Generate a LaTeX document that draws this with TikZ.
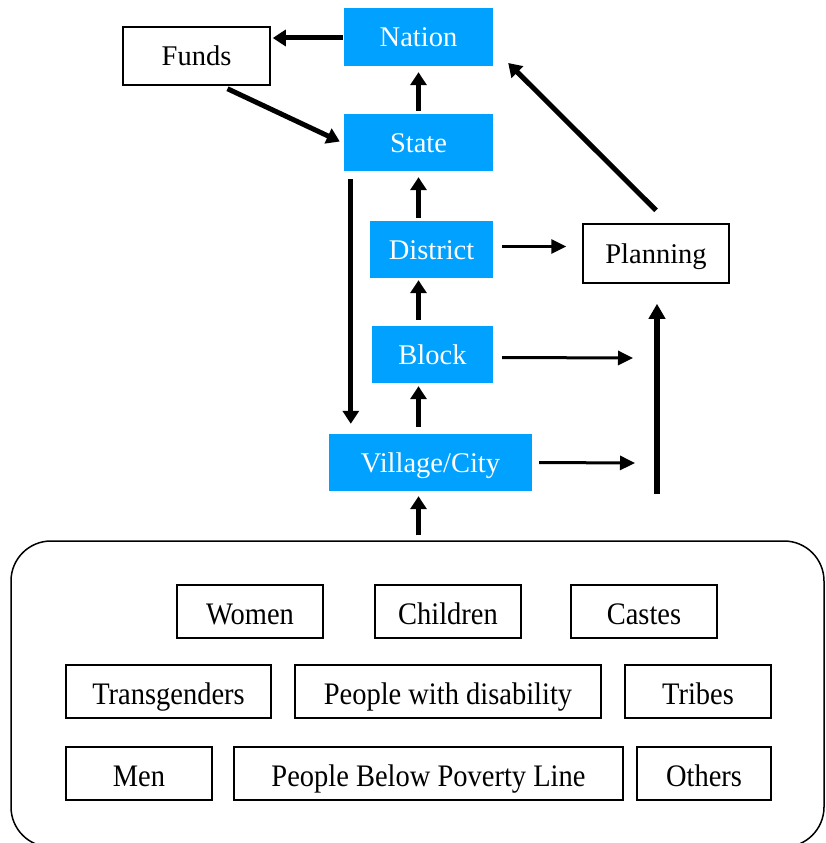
\documentclass[tikz,border=0pt]{standalone}
\usepackage{fontspec}
\setmainfont{Liberation Serif}
\usetikzlibrary{arrows.meta,calc}
\definecolor{lvlblue}{RGB}{0,161,255}
\tikzset{
  every node/.style={font=\fontsize{28.5}{34}\selectfont, text height=22pt, text depth=3pt},
  lvl/.style={fill=lvlblue, text=white, inner sep=0pt, minimum height=57pt},
  wbox/.style={draw=black, line width=1.5pt, fill=white, inner sep=0pt, minimum height=58pt},
  grp/.style={draw=black, line width=1.4pt, inner sep=0pt, minimum height=53pt,
    font=\fontsize{31.3}{36}\selectfont\addfontfeature{FakeStretch=0.91}, text height=27pt, text depth=2pt},
  thickarr/.style={line width=5pt, -{Triangle[length=13pt,width=16pt]}},
  thinarr/.style={line width=3pt, -{Triangle[length=15pt,width=14pt]}}
}
\begin{document}
\begin{tikzpicture}[x=1pt,y=-1pt]
\useasboundingbox (0,0) rectangle (826,843);
\begin{scope}
\clip (0,0) rectangle (826,843);
\node[draw=black, line width=1.5pt, rounded corners=40pt, minimum width=813pt, minimum height=306pt, inner sep=0pt] (pop) at (417.5,694) {};
\end{scope}
% hierarchy
\node[lvl, minimum width=149pt, minimum height=58pt] (nation) at (418.5,37) {Nation};
\node[lvl, minimum width=149pt] (state) at (418.5,142.5) {State};
\node[lvl, minimum width=123pt] (district) at (431.5,249.5) {District};
\node[lvl, minimum width=121pt] (block) at (432.5,354.5) {Block};
\node[lvl, minimum width=203pt] (village) at (430.5,462.5) {Village/City};
\node[wbox, minimum width=147pt] (funds) at (196.5,56) {Funds};
\node[wbox, minimum width=146pt, minimum height=59pt] (planning) at (656,253.5) {Planning};
% groups
\node[grp, minimum width=146pt] (women) at (250,611.5) {Women};
\node[grp, minimum width=146pt] (children) at (448,611.5) {Children};
\node[grp, minimum width=146pt] (castes) at (644,611.5) {Castes};
\node[grp, minimum width=205pt] (trans) at (168.5,691.5) {Transgenders};
\node[grp, minimum width=306pt] (pwd) at (448,691.5) {People with disability};
\node[grp, minimum width=146pt] (tribes) at (698,691.5) {Tribes};
\node[grp, minimum width=146pt] (men) at (139,773.5) {Men};
\node[grp, minimum width=389pt] (bpl) at (428.5,773.5) {People Below Poverty Line};
\node[grp, minimum width=134pt] (others) at (704,773.5) {Others};
% coordinates
\coordinate (blockend) at (633,358);
\coordinate (villend) at (635,463);
\coordinate (upstart) at (657,494);
% arrows
\draw[thickarr] ($(nation.west)+(-1,1)$) -- ($(nation.west -| funds.east)+(2,1)$);
\draw[thickarr] ($(funds.south)+(31,3)$) -- ($(state.west)+(-4,-1)$);
\draw[thickarr] ($(state.north)+(0,-3)$) -- ($(nation.south)+(0,6)$);
\draw[thickarr] ($(district.north -| state)+(0,-3)$) -- ($(state.south)+(0,6)$);
\draw[thickarr] ($(block.north -| state)+(0,-6)$) -- ($(district.south -| state)+(0,2)$);
\draw[thickarr] ($(village.north -| state)+(0,-7)$) -- ($(block.south -| state)+(0,3)$);
\draw[thickarr] ($(pop.north -| state)+(0,-5)$) -- ($(village.south -| state)+(0,5)$);
\draw[thickarr] ($(state.south west)+(7,8)$) -- ($(village.north west)+(22,-10)$);
\draw[thickarr] ($(planning.north)+(0,-13)$) -- ($(nation.east)+(15,26)$);
\draw[thinarr] ($(district.east)+(9,-3)$) -- ($(planning.west |- district.east)+(-16,-3)$);
\draw[thinarr] ($(block.east)+(9,3)$) -- (blockend);
\draw[thinarr] ($(village.east)+(7,0)$) -- (villend);
\draw[line width=6pt, -{Triangle[length=15pt,width=16pt]}] (upstart) -- ($(planning.south)+(1,20)$);
\end{tikzpicture}
\end{document}
